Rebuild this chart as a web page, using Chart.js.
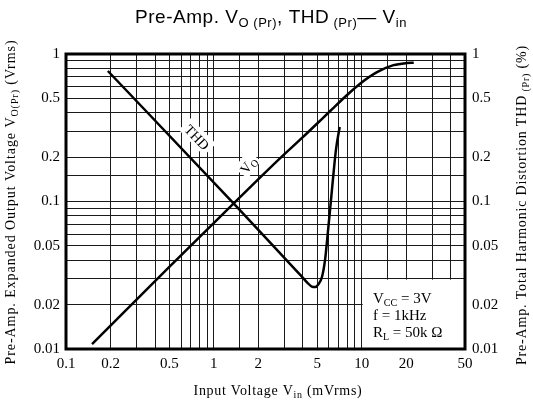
<!DOCTYPE html>
<html>
<head>
<meta charset="utf-8">
<script src="https://cdn.jsdelivr.net/npm/chart.js@4/dist/chart.umd.min.js"></script>
<style>
  body { margin: 0; background: #fff; }
</style>
</head>
<body>
<canvas id="preampChart" width="533" height="403"></canvas>
<script>
// Vo(Pr) vs Vin  (mVrms -> Vrms)
const voVin = [0.15, 0.5, 1.39, 2.8, 4.0, 5.0, 6.1, 8.0, 9.75, 12.7, 16.4, 20.2, 22.5];
const voOut = [0.0108, 0.036, 0.099, 0.196, 0.273, 0.338, 0.409, 0.529, 0.629, 0.753, 0.84, 0.868, 0.872];

// THD(Pr) vs Vin  (mVrms -> %)
const thdVin = [0.192, 1.39, 3.0, 3.8, 4.3, 4.6, 4.85, 5.1, 5.4, 5.65, 5.9, 6.2, 6.7, 7.1];
const thdPct = [0.767, 0.095, 0.0415, 0.0322, 0.0281, 0.0265, 0.0263, 0.0275, 0.031, 0.04, 0.061, 0.102, 0.224, 0.32];

const xTickLabels = [0.1, 0.2, 0.5, 1, 2, 5, 10, 20, 50];
const yTickLabels = [0.01, 0.02, 0.05, 0.1, 0.2, 0.5, 1];

const serif = '"Liberation Serif", "Times New Roman", serif';
const sans = '"Liberation Sans", Arial, sans-serif';

function pickLabel(list) {
  return (value) => {
    const hit = list.find((v) => Math.abs(v - value) / v < 1e-6);
    return hit === undefined ? "" : String(hit);
  };
}

// draw text made of normal / subscript pieces, optionally spread to a target width
function drawRich(ctx, parts, x, y, size, family, align, target) {
  const subSize = Math.round(size * 0.68);
  const setFont = (sub) => { ctx.font = (sub ? subSize : size) + "px " + family; };
  ctx.letterSpacing = "0px";
  let widths = parts.map(([t, sub]) => { setFont(sub); return ctx.measureText(t).width; });
  let total = widths.reduce((a, b) => a + b, 0);
  let spacing = 0;
  if (target) {
    const chars = parts.reduce((a, [t]) => a + t.length, 0);
    spacing = (target - total) / chars;
    widths = parts.map(([t], i) => widths[i] + spacing * t.length);
    total = target;
  }
  let cx = align === "center" ? x - total / 2 : x;
  ctx.textAlign = "left";
  ctx.textBaseline = "alphabetic";
  ctx.letterSpacing = spacing.toFixed(2) + "px";
  parts.forEach(([t, sub], i) => {
    setFont(sub);
    ctx.fillText(t, cx, sub ? y + size * 0.2 : y);
    cx += widths[i];
  });
  ctx.letterSpacing = "0px";
  return total;
}

const decorations = {
  id: "decorations",
  beforeDatasetsDraw(chart) {
    const { ctx, chartArea, scales } = chart;
    ctx.save();
    ctx.fillStyle = "#fff";
    // blank box for the test conditions
    const bx = scales.x.getPixelForValue(10) + 1;
    const by = scales.y.getPixelForValue(0.03) + 1;
    ctx.fillRect(bx, by, chartArea.right - bx, chartArea.bottom - by);

    // curve labels
    const labels = [
      { x: 0.77, y: 0.273, rot: 46, w: 30, parts: [["THD", 0]] },
      { x: 1.70, y: 0.177, rot: -54, w: 16, parts: [["V", 0], ["O", 1]] },
    ];
    labels.forEach((l) => {
      const px = scales.x.getPixelForValue(l.x);
      const py = scales.y.getPixelForValue(l.y);
      ctx.save();
      ctx.translate(px, py);
      ctx.rotate((l.rot * Math.PI) / 180);
      ctx.fillStyle = "#fff";
      ctx.fillRect(-l.w / 2 - 3, -9, l.w + 6, 17);
      ctx.fillStyle = "#000";
      drawRich(ctx, l.parts, 0, 5, 14, serif, "center");
      ctx.restore();
    });

    // conditions
    ctx.fillStyle = "#000";
    drawRich(ctx, [["V", 0], ["CC", 1], [" = 3V", 0]], 373, 303, 15, serif, "left");
    drawRich(ctx, [["f = 1kHz", 0]], 373, 320, 15, serif, "left");
    drawRich(ctx, [["R", 0], ["L", 1], [" = 50k \u03A9", 0]], 373, 337, 15, serif, "left");
    ctx.restore();
  },
  afterDraw(chart) {
    const { ctx, chartArea } = chart;
    ctx.save();
    ctx.strokeStyle = "#000";
    ctx.lineWidth = 3;
    ctx.strokeRect(chartArea.left, chartArea.top,
      chartArea.right - chartArea.left, chartArea.bottom - chartArea.top);

    ctx.fillStyle = "#000";
    // main title
    drawRich(ctx, [["Pre-Amp. V", 0], ["O (Pr)", 1], [", THD", 0], [" (Pr)", 1],
      ["\u2014 V", 0], ["in", 1]], 271, 23, 19, sans, "center", 272);

    // x axis title
    drawRich(ctx, [["Input Voltage V", 0], ["in", 1], [" (mVrms)", 0]], 278, 395, 14, serif, "center", 169);

    // left axis title
    ctx.save();
    ctx.translate(10, 202);
    ctx.rotate(-Math.PI / 2);
    drawRich(ctx, [["Pre-Amp. Expanded Output Voltage V", 0], ["O(Pr)", 1], [" (Vrms)", 0]],
      0, 5, 14, serif, "center", 325);
    ctx.restore();

    // right axis title
    ctx.save();
    ctx.translate(521, 205);
    ctx.rotate(-Math.PI / 2);
    drawRich(ctx, [["Pre-Amp. Total Harmonic Distortion THD", 0], [" (Pr)", 1], [" (%)", 0]],
      0, 5, 14, serif, "center", 320);
    ctx.restore();
    ctx.restore();
  },
};

const gridStyle = { color: "#1a1a1a", lineWidth: 1, drawTicks: false };
const tickFont = { family: serif, size: 15 };

new Chart(document.getElementById("preampChart"), {
  type: "line",
  data: {
    datasets: [
      {
        label: "Vo",
        data: voVin.map((v, i) => ({ x: v, y: voOut[i] })),
        yAxisID: "y",
        borderColor: "#000",
        borderWidth: 2.5,
        pointRadius: 0,
        cubicInterpolationMode: "monotone",
      },
      {
        label: "THD",
        data: thdVin.map((v, i) => ({ x: v, y: thdPct[i] })),
        yAxisID: "y2",
        borderColor: "#000",
        borderWidth: 2.5,
        pointRadius: 0,
        cubicInterpolationMode: "monotone",
      },
    ],
  },
  options: {
    responsive: false,
    animation: false,
    layout: { padding: { left: 21, right: 23, top: 54, bottom: 24 } },
    plugins: { legend: { display: false }, tooltip: { enabled: false } },
    scales: {
      x: {
        type: "logarithmic",
        min: 0.1,
        max: 50,
        grid: gridStyle,
        border: { display: false },
        ticks: { autoSkip: false, maxRotation: 0, padding: 6, color: "#000", font: tickFont,
          callback: pickLabel(xTickLabels) },
        afterFit: (s) => { s.height = 30; },
      },
      y: {
        type: "logarithmic",
        position: "left",
        min: 0.01,
        max: 1,
        grid: gridStyle,
        border: { display: false },
        ticks: { autoSkip: false, padding: 6, color: "#000", font: tickFont,
          callback: pickLabel(yTickLabels) },
        afterFit: (s) => { s.width = 45; },
      },
      y2: {
        type: "logarithmic",
        position: "right",
        min: 0.01,
        max: 1,
        grid: { drawOnChartArea: false, drawTicks: false },
        border: { display: false },
        ticks: { autoSkip: false, padding: 7, color: "#000", font: tickFont,
          callback: pickLabel(yTickLabels) },
        afterFit: (s) => { s.width = 45; },
      },
    },
  },
  plugins: [decorations],
});
</script>
</body>
</html>
